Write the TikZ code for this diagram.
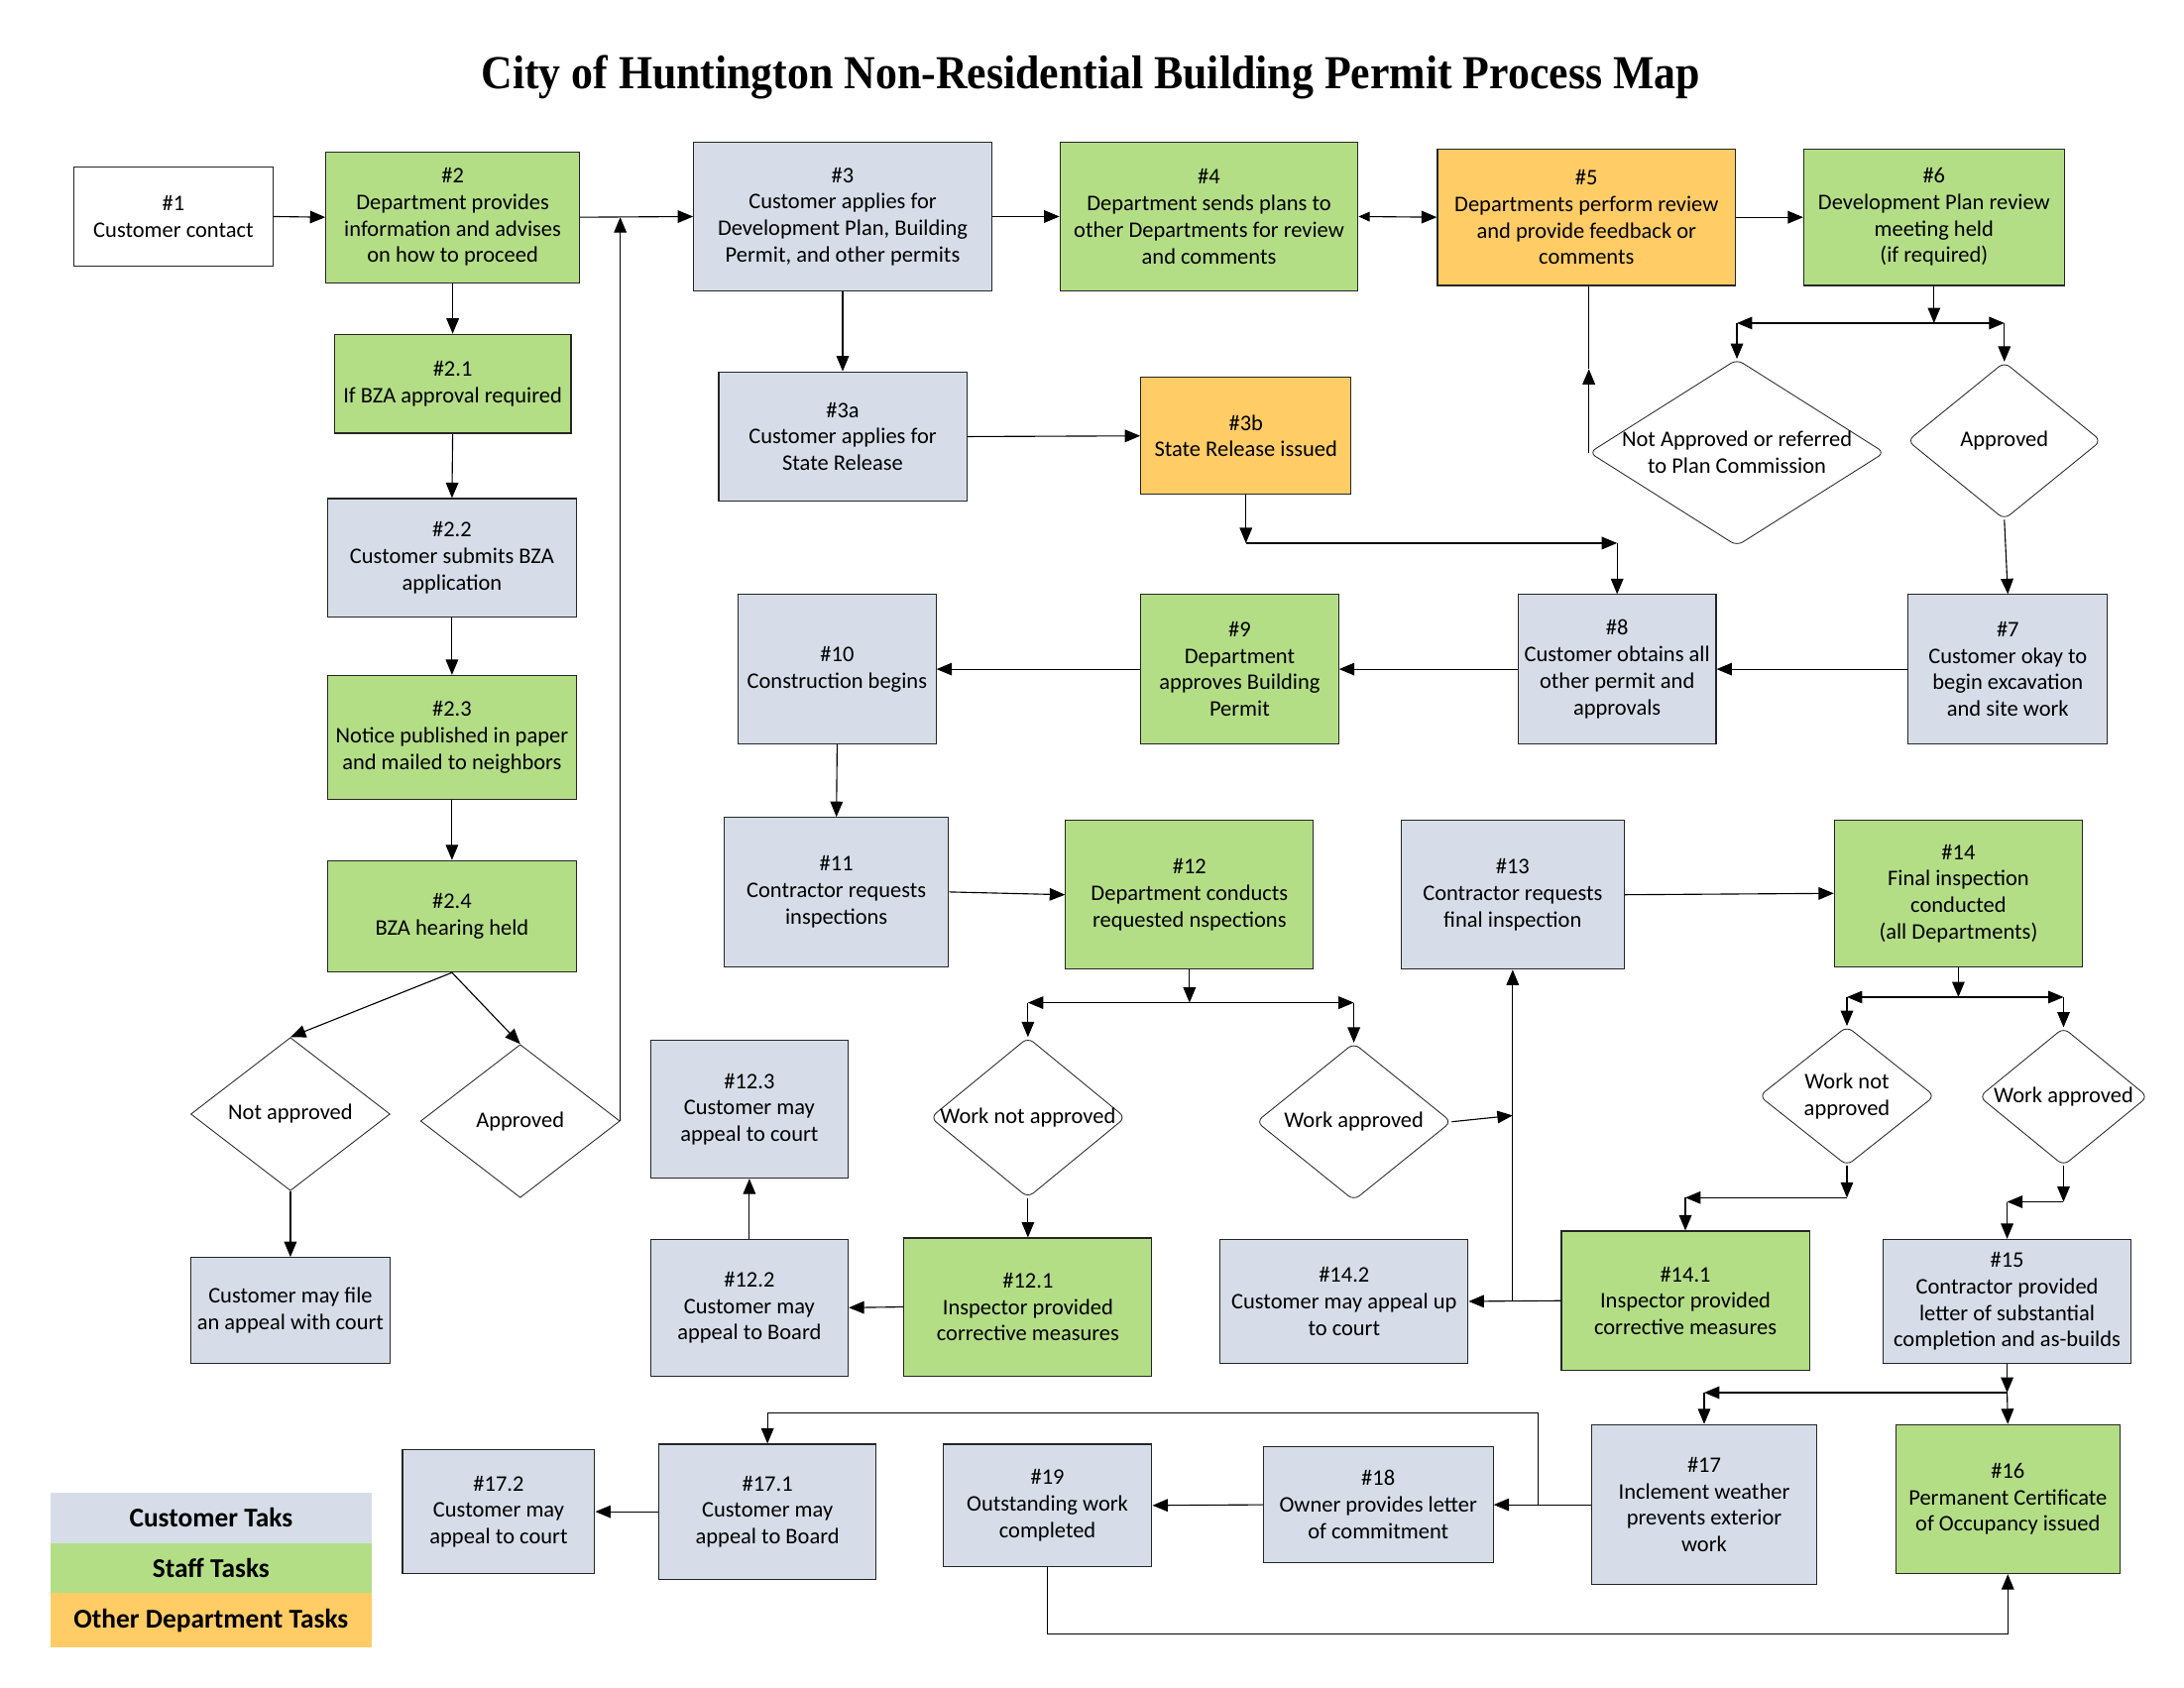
\documentclass[tikz,border=0pt]{standalone}
\usepackage{fontspec}
\setmainfont{Carlito}
\newfontfamily\titlefont{Liberation Serif}
\usepackage{graphicx}
\usetikzlibrary{shapes.geometric,arrows.meta,calc}
\definecolor{custc}{RGB}{214,221,232}
\definecolor{staffc}{RGB}{180,222,134}
\definecolor{otherc}{RGB}{255,204,102}
\tikzset{
 base/.style={draw=black!85, line width=0.8pt, align=center, font=\fontsize{16}{19}\selectfont, inner sep=2pt},
 cust/.style={base, fill=custc},
 staff/.style={base, fill=staffc},
 other/.style={base, fill=otherc},
 plain/.style={base, fill=white},
 sz/.style 2 args={minimum width=#1pt, minimum height=#2pt},
 dia/.style={draw=black!85, line width=0.6pt, shape=diamond, inner sep=0pt, fill=white},
 rdia/.style={dia, rounded corners=5pt},
 arr/.style={line width=0.8pt, -{Triangle[length=11pt,width=9pt]}},
 darr/.style={line width=0.8pt, {Triangle[length=8pt,width=7pt]}-{Triangle[length=11pt,width=9pt]}},
 ln/.style={line width=0.8pt},
 lab/.style={align=center, font=\fontsize{16}{19}\selectfont},
 leg/.style={inner sep=0pt, font=\bfseries\fontsize{19.5}{22}\selectfont},
}
\begin{document}
\begin{tikzpicture}[x=1pt,y=-1pt]
\useasboundingbox[fill=white] (0,0) rectangle (1568,1212);
% title
\node[anchor=base, font=\titlefont\bfseries\fontsize{34}{40}\selectfont] (title) at (783,64) {\resizebox{875pt}{\height}{City of Huntington Non-Residential Building Permit Process Map}};
% top row
\node[plain, sz={143}{71}] (n1) at (124.5,155.5) {\#1\\Customer contact};
\node[staff, sz={182}{94}] (n2) at (325,156) {\#2\\Department provides\\information and advises\\on how to proceed};
\node[cust, sz={214}{107}] (n3) at (605,155.5) {\#3\\Customer applies for\\Development Plan, Building\\Permit, and other permits};
\node[staff, sz={214}{107}] (n4) at (868,155.5) {\#4\\Department sends plans to\\other Departments for review\\and comments};
\node[other, sz={214}{98}] (n5) at (1139,156) {\#5\\Departments perform review\\and provide feedback or\\comments};
\node[staff, sz={187}{98}] (n6) at (1388.5,156) {\#6\\Development Plan review\\meeting held\\(if required)};
% left column
\node[staff, sz={170}{71}] (n21) at (325,275.5) {\#2.1\\If BZA approval required};
\node[cust, sz={179}{85}] (n22) at (324.5,400.5) {\#2.2\\Customer submits BZA\\application};
\node[staff, sz={179}{89}] (n23) at (324.5,529.5) {\#2.3\\Notice published in paper\\and mailed to neighbors};
\node[staff, sz={179}{80}] (n24) at (324.5,658) {\#2.4\\BZA hearing held};
% state release
\node[cust, sz={178}{93}] (n3a) at (605,313.5) {\#3a\\Customer applies for\\State Release};
\node[other, sz={151}{84}] (n3b) at (894.5,313) {\#3b\\State Release issued};
% top right diamonds
\node[rdia, sz={212}{134}, label={[lab]center:Not Approved or referred\\to Plan Commission}] (dNA) at (1247,325) {};
\node[rdia, sz={139}{113}, label={[lab]center:Approved}] (dA) at (1439,316.5) {};
% second row
\node[cust, sz={142}{107}] (n10) at (601,480.5) {\#10\\Construction begins};
\node[staff, sz={142}{107}] (n9) at (890,480.5) {\#9\\Department\\approves Building\\Permit};
\node[cust, sz={142}{107}] (n8) at (1161,480.5) {\#8\\Customer obtains all\\other permit and\\approvals};
\node[cust, sz={143}{107}] (n7) at (1441.5,480.5) {\#7\\Customer okay to\\begin excavation\\and site work};
% third row
\node[cust, sz={161}{107}] (n11) at (600.5,640.5) {\#11\\Contractor requests\\inspections};
\node[staff, sz={178}{107}] (n12) at (854,642.5) {\#12\\Department conducts\\requested nspections};
\node[cust, sz={160}{107}] (n13) at (1086,642.5) {\#13\\Contractor requests\\final inspection};
\node[staff, sz={178}{105}] (n14) at (1406,641.5) {\#14\\Final inspection\\conducted\\(all Departments)};
% diamonds row
\node[dia, sz={143}{110}, label={[lab]center:Not approved}] (dLN) at (208.5,800) {};
\node[dia, sz={143}{110}, label={[lab]center:Approved}] (dLA) at (373.5,805) {};
\node[cust, sz={142}{99}] (n123) at (538,796.5) {\#12.3\\Customer may\\appeal to court};
\node[rdia, sz={140}{115}, label={[lab]center:Work not approved}] (dWN) at (738,802.5) {};
\node[rdia, sz={140}{113}, label={[lab]center:Work approved}] (dWA) at (972,805.5) {};
\node[rdia, sz={126}{100}, label={[lab]center:Work not\\approved}] (dWN2) at (1326,787) {};
\node[rdia, sz={121}{99}, label={[lab]center:Work approved}] (dWA2) at (1481.5,787.5) {};
% fourth row
\node[cust, sz={143}{76}] (nF) at (208.5,941) {Customer may file\\an appeal with court};
\node[cust, sz={142}{98}] (n122) at (538,939) {\#12.2\\Customer may\\appeal to Board};
\node[staff, sz={178}{99}] (n121) at (738,938.5) {\#12.1\\Inspector provided\\corrective measures};
\node[cust, sz={178}{89}] (n142) at (965,934.5) {\#14.2\\Customer may appeal up\\to court};
\node[staff, sz={178}{100}] (n141) at (1210,934) {\#14.1\\Inspector provided\\corrective measures};
\node[cust, sz={178}{89}] (n15) at (1441,934.5) {\#15\\Contractor provided\\letter of substantial\\completion and as-builds};
% bottom row
\node[cust, sz={138}{89}] (n172) at (358,1085.5) {\#17.2\\Customer may\\appeal to court};
\node[cust, sz={156}{97}] (n171) at (551,1085.5) {\#17.1\\Customer may\\appeal to Board};
\node[cust, sz={150}{88}] (n19) at (752,1081) {\#19\\Outstanding work\\completed};
\node[cust, sz={165}{83}] (n18) at (989.5,1080.5) {\#18\\Owner provides letter\\of commitment};
\node[cust, sz={161}{115}] (n17) at (1223.5,1080.5) {\#17\\Inclement weather\\prevents exterior\\work};
\node[staff, sz={161}{107}] (n16) at (1441.5,1076.5) {\#16\\Permanent Certificate\\of Occupancy issued};
% legend
\node[leg, fill=custc, sz={231}{36}] (lg1) at (151.5,1090) {Customer Taks};
\node[leg, fill=staffc, sz={231}{36}] (lg2) at (151.5,1126) {Staff Tasks};
\node[leg, fill=otherc, sz={231}{39}] (lg3) at (151.5,1163.5) {Other Department Tasks};

% ---------- connectors ----------
\draw[arr] (n1.east) -- (n2.west);
\draw[arr] (n2.east) -- (n3.west);
\draw[arr] (n3.east) -- (n4.west);
\draw[darr] (n4.east) -- (n5.west);
\draw[arr] (n5.east) -- (n6.west);
% #6 fork
\coordinate (j6) at (n6.south |- 0,232);
\coordinate (j6l) at (dNA.north |- j6);
\coordinate (j6r) at (dA.north |- j6);
\draw[arr] (n6.south) -- (j6);
\draw[arr] (j6) -- (j6l);
\draw[arr] (j6) -- (j6r);
\draw[arr] (j6l) -- (dNA.north);
\draw[arr] (j6r) -- (dA.north);
% not approved back to #5
\coordinate (m5) at (dNA.west |- 0,265);
\draw[arr] (dNA.west) -- (m5);
\draw[ln] (m5) -- (dNA.west |- n5.south);
% approved to #7 and row 2
\draw[arr] (dA.south) -- (n7.north);
\draw[arr] (n7.west) -- (n8.east);
\draw[arr] (n8.west) -- (n9.east);
\draw[arr] (n9.west) -- (n10.east);
% #3 to state release
\draw[arr] (n3.south) -- (n3a.north);
\draw[arr] (n3a.east) -- (n3b.west);
\coordinate (j3b) at (n3b.south |- 0,390);
\coordinate (j3br) at (n8.north |- j3b);
\draw[arr] (n3b.south) -- (j3b);
\draw[arr] (j3b) -- (j3br);
\draw[arr] (j3br) -- (n8.north);
% left column
\draw[arr] (n2.south) -- (n21.north);
\draw[arr] (n21.south) -- (n22.north);
\draw[arr] (n22.south) -- (n23.north);
\draw[arr] (n23.south) -- (n24.north);
\draw[arr] (n24.south) -- (dLN.north);
\draw[arr] (n24.south) -- (dLA.north);
\draw[arr] (dLN.south) -- (nF.north);
\draw[arr] (dLA.east) -- (dLA.east |- n2.east);
% construction
\draw[arr] (n10.south) -- (n11.north);
\draw[arr] (n11.east) -- (n12.west);
% #12 fork
\coordinate (j12) at (n12.south |- 0,720);
\coordinate (j12l) at (dWN.north |- j12);
\coordinate (j12r) at (dWA.north |- j12);
\draw[arr] (n12.south) -- (j12);
\draw[arr] (j12) -- (j12l);
\draw[arr] (j12) -- (j12r);
\draw[arr] (j12l) -- (dWN.north);
\draw[arr] (j12r) -- (dWA.north);
\draw[arr] (dWN.south) -- (n121.north);
\draw[arr] (n121.west) -- (n122.east);
\draw[arr] (n122.north) -- (n123.south);
% work approved to #13
\coordinate (k13) at (n13.south |- 0,801);
\coordinate (k141) at (n13.south |- n141.west);
\draw[arr] (dWA.east) -- (k13);
\draw[arr] (n141.west) -- (n142.east);
\draw[arr] (k141) -- (n13.south);
\draw[arr] (n13.east) -- (n14.west);
% #14 fork
\coordinate (j14) at (n14.south |- 0,716);
\coordinate (j14l) at (dWN2.north |- j14);
\coordinate (j14r) at (dWA2.north |- j14);
\draw[arr] (n14.south) -- (j14);
\draw[arr] (j14) -- (j14l);
\draw[arr] (j14) -- (j14r);
\draw[arr] (j14l) -- (dWN2.north);
\draw[arr] (j14r) -- (dWA2.north);
% work not approved -> #14.1
\coordinate (a1) at (dWN2.south |- 0,860);
\coordinate (a2) at (n141.north |- a1);
\draw[arr] (dWN2.south) -- (a1);
\draw[arr] (a1) -- (a2);
\draw[arr] (a2) -- (n141.north);
% work approved -> #15
\coordinate (b1) at (dWA2.south |- 0,863);
\coordinate (b2) at (n15.north |- b1);
\draw[arr] (dWA2.south) -- (b1);
\draw[arr] (b1) -- (b2);
\draw[arr] (b2) -- (n15.north);
% #15 fork
\coordinate (j15) at (n15.south |- 0,1000);
\coordinate (j15l) at (n17.north |- j15);
\draw[arr] (n15.south) -- (j15);
\draw[arr] (j15) -- (j15l);
\draw[arr] (j15l) -- (n17.north);
\draw[arr] (j15) -- (n16.north);
% bottom row
\draw[arr] (n17.west) -- (n18.east);
\coordinate (k17) at (1104,1080.5);
\draw[arr] (k17) |- ($(n171.north)+(0,-22)$) -- (n171.north);
\draw[arr] (n18.west) -- (n19.east);
\draw[arr] (n19.south) -- ++(0,48) -| (n16.south);
\draw[arr] (n171.west) -- (n172.east);
\end{tikzpicture}
\end{document}
